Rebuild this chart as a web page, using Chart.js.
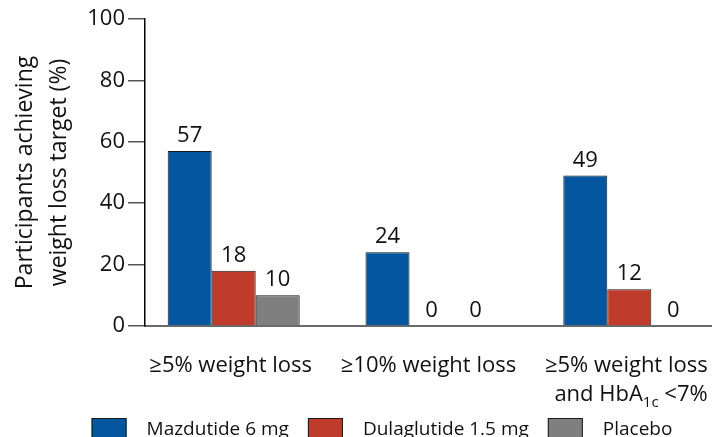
<!DOCTYPE html>
<html>
<head>
<meta charset="utf-8">
<script src="https://cdn.jsdelivr.net/npm/chart.js@4.4.1/dist/chart.umd.min.js"></script>
<style>
  html, body { margin: 0; padding: 0; background: #ffffff; }
  #wrap { width: 712px; height: 437px; position: relative; }
</style>
</head>
<body>
<div id="wrap"><canvas id="chart" width="712" height="437"></canvas></div>
<script>
// Outcome categories; "_{...}" marks a subscript run, "\n" a line break
const categories = ['≥5% weight loss', '≥10% weight loss', '≥5% weight loss\nand HbA_{1c} <7%'];

// Treatment arms
const seriesNames = ['Mazdutide 6 mg', 'Dulaglutide 1.5 mg', 'Placebo'];
const mazdutide = [57, 24, 49];
const dulaglutide = [18, 0, 12];
const placebo = [10, 0, 0];

// Y axis
const yTicks = [0, 20, 40, 60, 80, 100];
const yTitle = ['Participants achieving', 'weight loss target (%)'];

const FONT = '"Open Sans", Lato, sans-serif';
const colors = ['#04579f', '#bf3b2b', '#7f7f7f'];
const seriesValues = [mazdutide, dulaglutide, placebo];

const datasets = seriesNames.map((name, s) => ({
  label: name,
  data: seriesValues[s].map((v, i) => ({ x: i, y: v })),
  backgroundColor: colors[s],
  borderColor: '#1a1a1a',
  borderWidth: 1,
  borderSkipped: 'bottom',
  categoryPercentage: 0.6674,
  barPercentage: 1
}));

// Numbers printed above every bar
const valueLabels = {
  id: 'valueLabels',
  afterDatasetsDraw(chart) {
    const ctx = chart.ctx;
    ctx.save();
    ctx.font = '22px ' + FONT;
    ctx.fillStyle = '#111';
    ctx.textAlign = 'center';
    ctx.textBaseline = 'alphabetic';
    chart.data.datasets.forEach((ds, d) => {
      chart.getDatasetMeta(d).data.forEach((el, i) => {
        ctx.fillText(String(ds.data[i].y), el.x, el.y - 9);
      });
    });
    ctx.restore();
  }
};

// Split a line into plain / subscript runs
function runs(line) {
  const out = [];
  const re = /_\{([^}]*)\}/g;
  let last = 0, m;
  while ((m = re.exec(line))) {
    if (m.index > last) out.push({ t: line.slice(last, m.index), sub: false });
    out.push({ t: m[1], sub: true });
    last = re.lastIndex;
  }
  if (last < line.length) out.push({ t: line.slice(last), sub: false });
  return out;
}

// Category names under the bar groups
const categoryLabels = {
  id: 'categoryLabels',
  afterDraw(chart) {
    const ctx = chart.ctx;
    const xs = chart.scales.x;
    const mainFont = '22px ' + FONT;
    const subFont = '15px ' + FONT;
    ctx.save();
    ctx.fillStyle = '#111';
    ctx.textBaseline = 'alphabetic';
    ctx.textAlign = 'left';
    const widthOf = (parts) => parts.reduce((w, p) => {
      ctx.font = p.sub ? subFont : mainFont;
      return w + ctx.measureText(p.t).width;
    }, 0);
    categories.forEach((label, i) => {
      const cx = xs.getPixelForValue(i) - 3;
      const lines = label.split('\n').map(runs);
      const w0 = widthOf(lines[0]);
      const right = cx + w0 / 2;
      lines.forEach((parts, li) => {
        const w = widthOf(parts);
        let x = right - w;
        const base = 371.5 + li * 29;
        parts.forEach(p => {
          ctx.font = p.sub ? subFont : mainFont;
          ctx.fillText(p.t, x, p.sub ? base + 6 : base);
          x += ctx.measureText(p.t).width;
        });
      });
    });
    ctx.restore();
  }
};

// Legend row along the bottom edge
const bottomLegend = {
  id: 'bottomLegend',
  afterDraw(chart) {
    const ctx = chart.ctx;
    ctx.save();
    ctx.font = '19px ' + FONT;
    const box = 35, gapText = 20, gapItem = 19;
    const items = chart.data.datasets.map(ds => ({
      text: ds.label, color: ds.backgroundColor, w: ctx.measureText(ds.label).width
    }));
    const total = items.reduce((s, it) => s + box + gapText + it.w, 0) + gapItem * (items.length - 1);
    let x = 382 - total / 2;
    items.forEach(it => {
      ctx.fillStyle = it.color;
      ctx.fillRect(x, 418, box, 20);
      ctx.strokeStyle = '#1a1a1a';
      ctx.lineWidth = 1;
      ctx.strokeRect(x + 0.5, 418.5, box - 1, 20);
      ctx.fillStyle = '#111';
      ctx.textBaseline = 'alphabetic';
      ctx.textAlign = 'left';
      ctx.fillText(it.text, x + box + gapText, 434.5);
      x += box + gapText + it.w + gapItem;
    });
    ctx.restore();
  }
};

new Chart(document.getElementById('chart'), {
  type: 'bar',
  data: { datasets },
  options: {
    responsive: false,
    animation: false,
    events: [],
    layout: { padding: { top: 19, right: 0, bottom: 0, left: 0 } },
    plugins: { legend: { display: false }, tooltip: { enabled: false } },
    scales: {
      x: {
        type: 'linear',
        offset: false,
        min: -0.4484,
        max: 2.4181,
        afterBuildTicks(s) { s.ticks = categories.map((c, i) => ({ value: i })); },
        ticks: { display: false },
        grid: { display: false, drawTicks: false, offset: false },
        border: { display: true, color: '#6a6a6a', width: 2 },
        afterFit(s) { s.height = 111; }
      },
      y: {
        min: 0,
        max: 100,
        afterBuildTicks(s) { s.ticks = yTicks.map(v => ({ value: v })); },
        ticks: { font: { family: FONT, size: 22 }, color: '#111', padding: 3 },
        grid: { display: true, drawOnChartArea: false, drawTicks: true, tickLength: 17, color: '#555', lineWidth: 1.5 },
        border: { display: true, color: '#000', width: 1.5 },
        title: {
          display: true,
          text: yTitle,
          color: '#111',
          font: { family: FONT, size: 23, lineHeight: 34 / 23 },
          padding: { top: 8, bottom: 0 }
        },
        afterFit(s) { s.width = 145; }
      }
    }
  },
  plugins: [valueLabels, categoryLabels, bottomLegend]
});
</script>
</body>
</html>
